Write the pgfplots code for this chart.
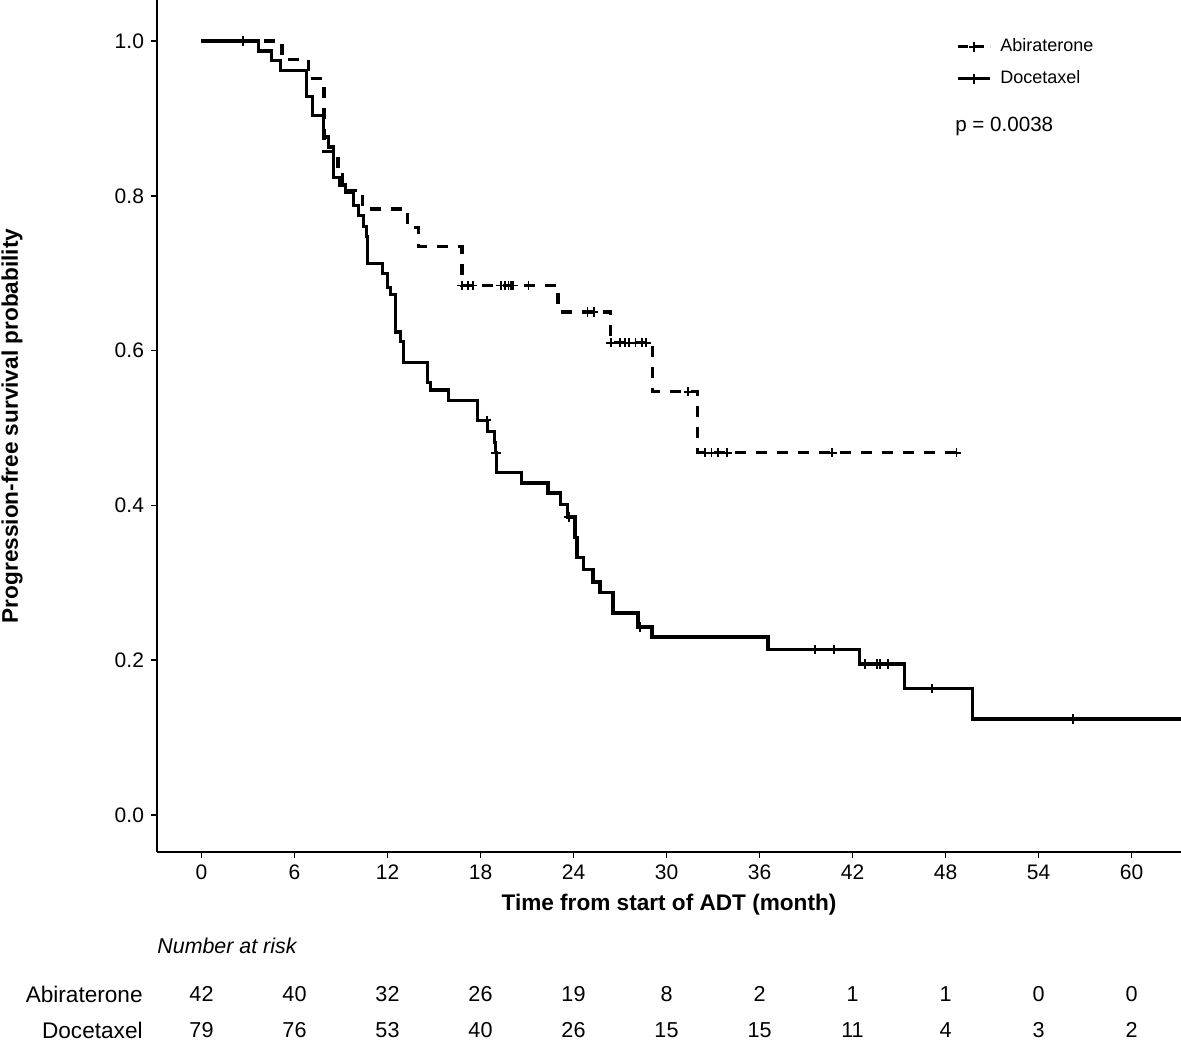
\documentclass[border=0pt]{standalone}
\usepackage{fontspec}
\setmainfont{Liberation Sans}
\usepackage{pgfplots}
\pgfplotsset{compat=1.18}
\begin{document}
\begin{tikzpicture}
\path[use as bounding box] (0pt,0pt) rectangle (590.5pt,520pt);
\begin{axis}[
  at={(78.5pt,94pt)}, anchor=south west,
  scale only axis, width=512pt, height=426pt,
  xmin=-2.87, xmax=63.19, ymin=-0.0478, ymax=1.053,
  axis lines=left, axis line style={-, line width=0.8pt, black},
  xtick={0,6,12,18,24,30,36,42,48,54,60},
  ytick={0,0.2,0.4,0.6,0.8,1.0},
  tick align=outside, major tick length=3pt,
  tick style={black, line width=0.8pt},
  /pgf/number format/assume math mode=true,
  yticklabel style={/pgf/number format/.cd, fixed, fixed zerofill, precision=1},
  ticklabel style={font=\fontsize{10.5}{12}\selectfont},
  xlabel={Time from start of ADT (month)},
  ylabel={Progression-free survival probability},
  label style={font=\fontsize{11.3}{13}\selectfont\bfseries},
  xlabel style={at={(axis description cs:0.5,0)}, anchor=center, yshift=-26.5pt},
  ylabel style={at={(axis description cs:-0.1416,0.5)}, anchor=center},
  clip mode=individual,
  legend style={at={(axis cs:48.3,1.014)}, anchor=north west, draw=none, fill=none,
    font=\fontsize{9}{11}\selectfont, row sep=4pt,
    nodes={inner xsep=4.5pt}},
  legend cell align=left,
]
\addlegendimage{legend image code/.code={
  \draw[black, line width=1.4pt, dash pattern=on 5pt off 3pt] (0pt,0pt) -- (16pt,0pt);
  \draw[black, line width=0.9pt] plot[mark=+, mark size=2.5pt] coordinates {(8pt,0pt)};}}
\addlegendentry{Abiraterone}
\addlegendimage{legend image code/.code={
  \draw[black, line width=1.4pt] (0pt,0pt) -- (16pt,0pt);
  \draw[black, line width=0.9pt] plot[mark=+, mark size=2.5pt] coordinates {(8pt,0pt)};}}
\addlegendentry{Docetaxel}

% Abiraterone (dashed)
\addplot[const plot, black, line width=1.6pt, dash pattern=on 5.5pt off 5pt, forget plot] coordinates {
(0,1) (5.2,0.976) (6.9,0.952) (7.9,0.857) (8.8,0.833) (9.1,0.807) (10.4,0.783)
(13.3,0.759) (14.0,0.734) (16.8,0.684) (23.0,0.650) (26.4,0.610) (29.1,0.547)
(32.0,0.468) (48.7,0.468)};
\addplot[only marks, mark=+, mark size=2.3pt, black, line width=0.9pt, forget plot] coordinates {
(16.8,0.684) (17.2,0.684) (17.5,0.684) (19.3,0.684) (19.6,0.684) (19.8,0.684)
(19.95,0.684) (20.1,0.684) (21.1,0.684) (24.9,0.650) (25.3,0.650) (26.4,0.610)
(27.0,0.610) (27.3,0.610) (27.6,0.610) (28.0,0.610) (28.4,0.610) (28.7,0.610)
(31.4,0.547) (32.5,0.468) (32.9,0.468) (33.3,0.468) (33.9,0.468) (40.7,0.468) (48.7,0.468)};

% Docetaxel (solid)
\addplot[const plot, black, line width=1.6pt, forget plot] coordinates {
(0,1) (3.67,0.987) (4.51,0.975) (5.09,0.962) (6.77,0.928) (7.15,0.904) (7.86,0.876)
(8.18,0.863) (8.51,0.824) (8.89,0.814) (9.28,0.804) (9.80,0.788) (10.12,0.775)
(10.44,0.760) (10.63,0.747) (10.70,0.713) (11.66,0.700) (11.99,0.682) (12.18,0.672)
(12.50,0.624) (12.82,0.612) (13.02,0.585) (14.56,0.559) (14.76,0.549) (15.92,0.536)
(17.79,0.510) (18.45,0.495) (18.9,0.481) (18.95,0.468) (19.05,0.443) (20.62,0.429)
(22.36,0.416) (23.14,0.401) (23.6,0.385) (24.10,0.359) (24.23,0.333) (24.62,0.317)
(25.26,0.301) (25.71,0.288) (26.55,0.261) (28.16,0.243) (29.06,0.230) (36.54,0.214)
(42.47,0.195) (45.37,0.163) (49.75,0.124) (63.19,0.124)};
\addplot[only marks, mark=+, mark size=2.3pt, black, line width=0.9pt, forget plot] coordinates {
(2.7,1.0) (18.4,0.510) (19.0,0.468) (23.7,0.385) (28.3,0.243) (39.6,0.214) (40.8,0.214)
(42.8,0.195) (43.6,0.195) (43.75,0.195) (44.3,0.195) (47.1,0.163) (56.2,0.124)};

\node[anchor=west, inner sep=0pt, font=\fontsize{10.3}{12}\selectfont] at (axis cs:48.6,0.889) {p = 0.0038};
\end{axis}

\node[anchor=west, inner sep=0pt, font=\fontsize{10.7}{12}\selectfont\itshape] at (78.5pt,47pt) {Number at risk};
\node[anchor=east, inner sep=0pt, font=\fontsize{11.3}{13}\selectfont] at (71.5pt,23pt) {Abiraterone};
\node[anchor=east, inner sep=0pt, font=\fontsize{11.3}{13}\selectfont] at (71.5pt,5pt) {Docetaxel};
\foreach \t/\a/\d in {0/42/79, 6/40/76, 12/32/53, 18/26/40, 24/19/26, 30/8/15, 36/2/15, 42/1/11, 48/1/4, 54/0/3, 60/0/2} {
  \node[font=\fontsize{10.8}{12}\selectfont] at ({100.75pt+7.75pt*\t},23pt) {\a};
  \node[font=\fontsize{10.8}{12}\selectfont] at ({100.75pt+7.75pt*\t},5pt) {\d};
}
\end{tikzpicture}
\end{document}
